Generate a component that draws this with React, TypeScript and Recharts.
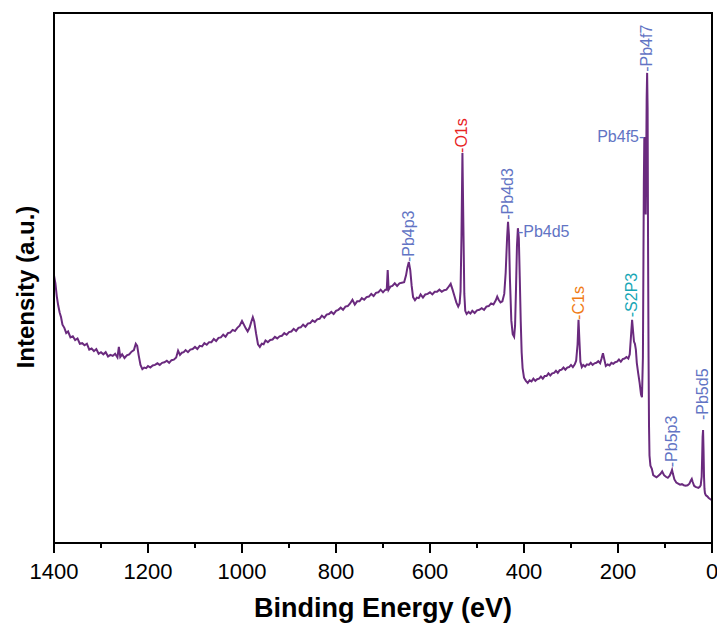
import React from "react"
import {
  LineChart,
  Line,
  XAxis,
  YAxis,
  ReferenceDot,
} from "recharts"

// binding energy (eV) and intensity (a.u.)
const energy = [
  1400, 1397, 1394, 1391, 1388, 1385, 1382, 1378, 1374, 1370, 1365, 1360, 1355, 1350, 1345, 1340,
  1335, 1330, 1325, 1320, 1315, 1310, 1305, 1300, 1295, 1290, 1285, 1280, 1275, 1270, 1265, 1262,
  1259, 1255, 1250, 1245, 1240, 1235, 1230, 1226, 1223, 1220, 1216, 1212, 1208, 1204, 1200, 1195,
  1190, 1185, 1180, 1175, 1170, 1165, 1160, 1155, 1150, 1145, 1140, 1136, 1132, 1128, 1124, 1120,
  1115, 1110, 1105, 1100, 1095, 1090, 1085, 1080, 1075, 1070, 1065, 1060, 1055, 1050, 1045, 1040,
  1035, 1030, 1025, 1020, 1015, 1010, 1005, 1000, 996, 992, 988, 984, 980, 977, 974, 970, 966, 962,
  958, 954, 950, 945, 940, 935, 930, 925, 920, 915, 910, 905, 900, 895, 890, 885, 880, 875, 870,
  865, 860, 855, 850, 845, 840, 835, 830, 825, 820, 815, 810, 805, 800, 795, 790, 785, 780, 775,
  770, 765, 760, 755, 750, 745, 740, 735, 730, 725, 720, 715, 710, 705, 700, 695, 692, 690, 688,
  684, 680, 675, 670, 665, 660, 655, 651, 648, 645, 642, 639, 636, 632, 628, 624, 620, 615, 610,
  605, 600, 595, 590, 585, 580, 575, 570, 565, 560, 556, 552, 548, 544, 540, 537, 535, 533, 531,
  529, 527, 525, 522, 518, 514, 510, 505, 500, 495, 490, 485, 480, 475, 470, 465, 460, 457, 454,
  450, 446, 442, 439, 436, 434, 432, 430, 427, 424, 421, 419, 417, 415, 413, 411, 409, 407, 405,
  403, 400, 396, 392, 388, 384, 380, 376, 372, 368, 364, 360, 356, 352, 348, 344, 340, 336, 332,
  328, 324, 320, 316, 312, 308, 304, 300, 296, 292, 289, 286, 284, 282, 280, 277, 274, 270, 266,
  262, 258, 254, 250, 246, 242, 238, 235, 232, 229, 226, 222, 218, 214, 210, 206, 202, 198, 194,
  190, 186, 182, 178, 175, 172, 170, 168, 166, 164, 162, 160, 157, 154, 151, 149, 147, 145, 144,
  143, 142, 141, 140, 139, 138, 137, 136, 135, 134, 133, 131, 128, 125, 122, 118, 114, 110, 106,
  102, 98, 94, 90, 87, 85, 83, 80, 76, 72, 68, 64, 60, 56, 52, 48, 45, 43, 41, 38, 35, 32, 29, 26,
  24, 22, 21, 20, 19, 18, 17, 16, 15, 13, 10, 7, 4, 2, 0,
]

const intensity = [
  50.5, 49.0, 46.5, 44.8, 43.5, 42.6, 41.2, 40.6, 39.6, 39.9, 38.8, 39.0, 38.3, 38.6, 37.6, 37.7,
  37.3, 37.6, 36.5, 36.7, 36.2, 36.6, 35.7, 36.0, 35.6, 36.0, 35.2, 35.5, 35.3, 35.7, 35.0, 37.0,
  35.1, 35.6, 34.9, 35.4, 35.6, 36.1, 36.4, 37.6, 37.2, 35.5, 33.6, 32.8, 33.1, 33.0, 33.4, 33.1,
  33.5, 33.6, 33.9, 33.6, 34.0, 34.1, 34.4, 34.0, 34.5, 34.6, 35.0, 36.3, 35.5, 35.9, 36.0, 36.4,
  36.0, 36.5, 36.6, 37.0, 36.6, 37.2, 37.1, 37.7, 37.4, 37.9, 37.9, 38.5, 38.1, 38.7, 38.8, 39.3,
  38.9, 39.6, 39.7, 40.2, 40.0, 40.6, 41.0, 41.9, 41.2, 40.5, 39.9, 40.6, 41.8, 42.6, 41.8, 39.5,
  37.5, 37.0, 37.6, 37.5, 38.2, 37.9, 38.3, 38.4, 38.9, 38.6, 39.0, 39.1, 39.6, 39.3, 39.8, 39.9,
  40.4, 40.0, 40.6, 40.7, 41.2, 40.8, 41.4, 41.5, 42.0, 41.7, 42.2, 42.3, 42.9, 42.5, 43.1, 43.2,
  43.6, 43.2, 43.8, 44.0, 44.4, 44.0, 44.6, 44.7, 45.2, 45.9, 45.0, 45.6, 45.6, 46.2, 45.9, 46.4,
  46.5, 47.0, 46.6, 47.2, 47.3, 47.8, 47.3, 47.8, 47.8, 51.5, 47.8, 48.4, 48.5, 49.0, 48.5, 49.0,
  49.1, 49.2, 50.5, 52.0, 53.0, 51.5, 48.5, 46.4, 45.8, 46.3, 46.2, 46.9, 46.3, 46.9, 47.0, 47.3,
  46.9, 47.4, 47.4, 47.8, 47.4, 47.7, 47.8, 48.4, 48.9, 47.8, 46.6, 45.4, 44.6, 45.2, 47.5, 58.0,
  73.6, 60.0, 47.0, 43.8, 43.2, 43.6, 43.3, 43.8, 43.4, 43.9, 44.0, 44.3, 44.0, 44.6, 44.7, 45.2,
  45.0, 45.8, 46.5, 45.9, 45.4, 45.6, 47.0, 51.0, 57.5, 60.6, 58.0, 50.0, 42.0, 39.4, 38.9, 41.0,
  48.0, 56.0, 59.4, 57.5, 50.0, 42.0, 36.0, 33.0, 31.2, 30.6, 30.2, 30.7, 30.5, 31.0, 30.6, 30.9,
  31.0, 31.4, 31.0, 31.5, 31.5, 32.0, 31.6, 32.0, 32.1, 32.5, 32.1, 32.6, 32.7, 33.1, 32.7, 33.1,
  33.2, 33.6, 33.2, 33.7, 34.4, 37.5, 42.1, 38.0, 34.2, 33.2, 33.6, 33.3, 33.7, 33.6, 34.0, 33.6,
  33.9, 34.0, 34.3, 33.9, 34.8, 35.8, 34.6, 33.4, 33.7, 33.5, 34.0, 33.8, 34.1, 34.2, 34.6, 34.2,
  34.7, 34.8, 35.1, 34.8, 35.6, 39.5, 42.1, 40.0, 38.0, 37.6, 36.5, 34.0, 32.0, 30.2, 28.0, 27.5,
  35.0, 68.0, 76.6, 75.5, 66.0, 62.0, 72.0, 84.0, 88.7, 82.0, 55.0, 35.0, 22.0, 16.5, 14.6, 14.0,
  12.8, 12.6, 12.4, 12.7, 13.0, 13.5, 12.8, 12.5, 12.3, 12.7, 13.3, 13.8, 13.0, 12.0, 11.4, 11.2,
  11.0, 11.1, 10.9, 10.8, 10.9, 11.2, 11.8, 12.1, 11.5, 10.8, 10.6, 10.5, 10.4, 10.6, 10.9, 12.5,
  16.0, 20.0, 21.3, 17.5, 12.5, 10.2, 9.4, 9.0, 8.8, 8.5, 8.3, 8.2, 8.1,
]

const xTicks = [1400, 1300, 1200, 1100, 1000, 900, 800, 700, 600, 500, 400, 300, 200, 100, 0]

// peak annotations: name, energy, height where the label starts, colour, direction
const peakNames = ["Pb4p3", "O1s", "Pb4d3", "Pb4d5", "C1s", "S2P3", "Pb4f5", "Pb4f7", "Pb5p3", "Pb5d5"]
const peakEnergy = [645, 531, 434, 413, 283, 170, 144, 138, 85, 19]
const peakLabelY = [53.0, 73.6, 61.0, 58.6, 42.1, 42.6, 76.6, 88.9, 14.3, 23.2]
const peakColor = ["#6274c4", "#e8231f", "#6274c4", "#6274c4", "#f07c16", "#17a6b5", "#6274c4", "#6274c4", "#6274c4", "#6274c4"]
const peakDir = ["up", "up", "up", "right", "up", "up", "left", "up", "up", "up"]

const data = energy.map((e, i) => ({ e, v: intensity[i] }))

const FONT = '"Liberation Sans", Arial, sans-serif'
const AXIS_LINE = { stroke: "#000", strokeWidth: 2 }

const W = 717
const H = 626
const MARGIN = { top: 13, right: 5, left: 8, bottom: 0 }
const Y_AXIS_W = 46
const X_AXIS_H = 83
const PLOT_LEFT = MARGIN.left + Y_AXIS_W

const XTick = (props: any) => {
  const { x, y, payload } = props
  const major = payload.value % 200 === 0
  return (
    <g>
      <line x1={x} x2={x} y1={y} y2={y + (major ? 10 : 5)} stroke="#000" strokeWidth={2} />
      {major && (
        <text x={x} y={y + 36} textAnchor="middle" fontSize={22} fontFamily={FONT} fill="#000">
          {payload.value}
        </text>
      )}
      {/* the 0 eV tick sits on the right edge: close the box from there */}
      {payload.value === 0 && (
        <path
          d={`M${x},${y} L${x},${MARGIN.top} L${PLOT_LEFT},${MARGIN.top}`}
          fill="none"
          stroke="#000"
          strokeWidth={2}
          strokeLinecap="square"
        />
      )}
    </g>
  )
}

const PeakLabel = (props: any) => {
  const { viewBox, text, color, dir } = props
  const cx = viewBox.x + (viewBox.width || 0) / 2
  const cy = viewBox.y + (viewBox.height || 0) / 2
  const common = { fontSize: 16, fontFamily: FONT, fill: color }
  if (dir === "right")
    return (
      <text x={cx} y={cy + 5} textAnchor="start" {...common}>
        {"-" + text}
      </text>
    )
  if (dir === "left")
    return (
      <text x={cx} y={cy + 5} textAnchor="end" {...common}>
        {text + "-"}
      </text>
    )
  return (
    <text x={cx} y={cy + 5} textAnchor="start" transform={`rotate(-90 ${cx} ${cy})`} {...common}>
      {"-" + text}
    </text>
  )
}

const YTitle = (p: any) => {
  const cx = 25
  const cy = p.viewBox.y + p.viewBox.height / 2 + 9
  return (
    <text
      x={cx}
      y={cy + 9}
      textAnchor="middle"
      transform={`rotate(-90 ${cx} ${cy})`}
      fontSize={24}
      fontWeight="bold"
      fontFamily={FONT}
      fill="#000"
    >
      Intensity (a.u.)
    </text>
  )
}

const XTitle = (p: any) => (
  <text
    x={p.viewBox.x + p.viewBox.width / 2}
    y={p.viewBox.y + 74}
    textAnchor="middle"
    fontSize={27}
    fontWeight="bold"
    fontFamily={FONT}
    fill="#000"
  >
    Binding Energy (eV)
  </text>
)

export default function App() {
  return (
    <div style={{ width: W, height: H }}>
      <style>{"body{margin:0}"}</style>
      <LineChart width={W} height={H} data={data} margin={MARGIN}>
        <XAxis
          dataKey="e"
          type="number"
          domain={[0, 1400]}
          reversed
          ticks={xTicks}
          interval={0}
          tickSize={0}
          tickMargin={0}
          tickLine={false}
          tick={<XTick />}
          height={X_AXIS_H}
          axisLine={AXIS_LINE}
          label={{ content: XTitle }}
        />
        <YAxis
          type="number"
          domain={[0, 100]}
          width={Y_AXIS_W}
          tick={false}
          tickLine={false}
          axisLine={AXIS_LINE}
          label={{ content: YTitle }}
        />
        <Line
          type="linear"
          dataKey="v"
          stroke="#6a2a7e"
          strokeWidth={2}
          dot={false}
          isAnimationActive={false}
        />
        {peakNames.map((n, i) => (
          <ReferenceDot
            key={n}
            x={peakEnergy[i]}
            y={peakLabelY[i]}
            r={0}
            fill="none"
            stroke="none"
            label={<PeakLabel text={n} color={peakColor[i]} dir={peakDir[i]} />}
          />
        ))}
      </LineChart>
    </div>
  )
}
